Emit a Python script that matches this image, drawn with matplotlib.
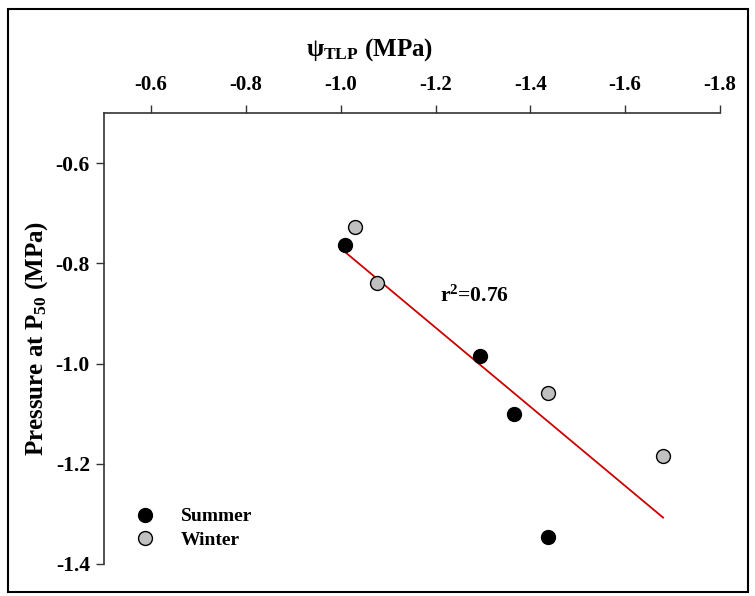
import numpy as np
import matplotlib.pyplot as plt
from matplotlib.patches import Rectangle

plt.rcParams['font.family'] = ['Liberation Serif', 'DejaVu Serif']
plt.rcParams['font.weight'] = 'bold'
plt.rcParams['mathtext.fontset'] = 'custom'
plt.rcParams['mathtext.rm'] = 'Liberation Serif:bold'
plt.rcParams['mathtext.it'] = 'Liberation Serif:bold'
plt.rcParams['mathtext.bf'] = 'Liberation Serif:bold'

# turgor loss point (x) vs pressure at P50 (y)
summer_x = [-1.009, -1.294, -1.366, -1.438]
summer_y = [-0.763, -0.984, -1.101, -1.347]
winter_x = [-1.030, -1.077, -1.438, -1.680]
winter_y = [-0.728, -0.839, -1.058, -1.184]

xticks = [-0.6, -0.8, -1.0, -1.2, -1.4, -1.6, -1.8]
yticks = [-0.6, -0.8, -1.0, -1.2, -1.4]

fig = plt.figure(figsize=(7.55, 5.96), dpi=100)
ax = fig.add_axes([0.1374, 0.0537, 0.8162, 0.7567])

# regression over all points
all_x = np.array(summer_x + winter_x)
all_y = np.array(summer_y + winter_y)
slope, icpt = np.polyfit(all_x, all_y, 1)
r2 = np.corrcoef(all_x, all_y)[0, 1] ** 2
fx = np.array([all_x.max(), all_x.min()])
ax.plot(fx, slope * fx + icpt, color='#cc0000', lw=1.3, zorder=2)

ax.plot(summer_x, summer_y, 'o', ms=10, mfc='black', mec='black', mew=1, ls='none',
        label='Summer', zorder=3)
ax.plot(winter_x, winter_y, 'o', ms=10, mfc='#c0c0c0', mec='black', mew=1, ls='none',
        label='Winter', zorder=3)

ax.set_xlim(-0.5, -1.8)
ax.set_ylim(-1.4, -0.5)
ax.xaxis.tick_top()
ax.set_xticks(xticks)
ax.set_yticks(yticks)
ax.set_xticklabels(['%.1f' % v for v in xticks])
ax.set_yticklabels(['%.1f' % v for v in yticks])
ax.tick_params(direction='out', length=6, width=1, labelsize=15, color='#333333')
ax.tick_params(axis='x', pad=7)
ax.tick_params(axis='y', pad=4, labelsize=15.5)

for s in ['right', 'bottom']:
    ax.spines[s].set_visible(False)
for s in ['left', 'top']:
    ax.spines[s].set_color('#333333')
    ax.spines[s].set_linewidth(1.2)

fig.text(370 / 755, 1 - 50 / 596, r'$\psi_{\mathregular{TLP}}$ (MPa)', fontsize=18,
         fontweight='bold', ha='center', va='center')
ax.set_ylabel(r'Pressure at P$_{50}$ (MPa)', fontsize=18, fontweight='bold', labelpad=4)

ax.text(-1.21, -0.865, r'r$^{2}$=%.2f' % r2, fontsize=15.5, fontweight='bold', va='center')

ax.legend(loc='center left', bbox_to_anchor=(0.022, 0.079), frameon=False,
          prop={'weight': 'bold', 'size': 14},
          handletextpad=0.85, labelspacing=0.3, borderaxespad=0)

fig.patches.append(Rectangle((0.011, 0.007), 0.98, 0.978, transform=fig.transFigure,
                             fill=False, ec='black', lw=1.5))

fig.savefig('out.png', dpi=100)
